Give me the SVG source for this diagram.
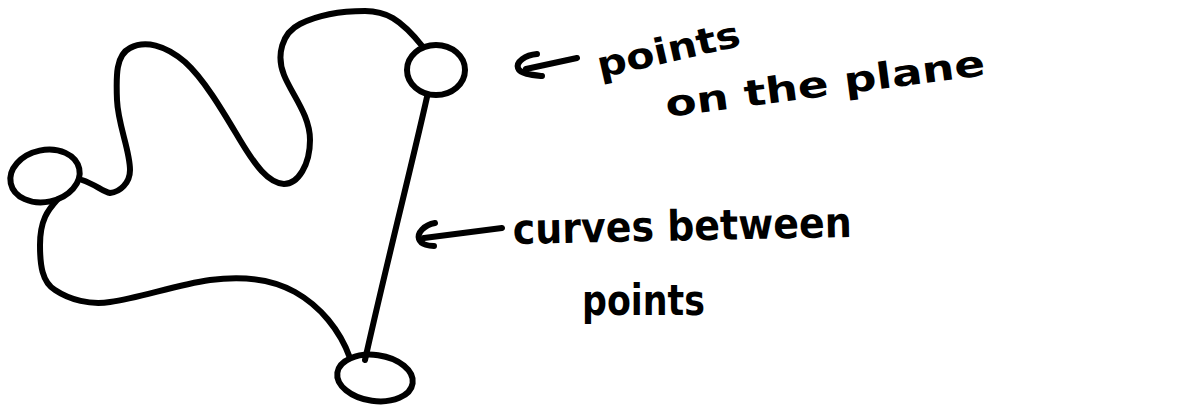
<svg xmlns="http://www.w3.org/2000/svg" width="1204" height="410" viewBox="0 0 1204 410">
<style>
.ink{fill:none;stroke:#000;stroke-width:6;stroke-linecap:round;stroke-linejoin:round}
.lbl{font-family:"DejaVu Sans","Liberation Sans",sans-serif;font-weight:bold;fill:#000}
</style>
<rect width="1204" height="410" fill="#fff"/>
<g id="connectors">
<path class="ink" d="M82,180 C95,184 103,192 110,193 C120,192 130,183 130,170 C130,150 118,125 117,100 C116,75 116,55 130,48 C145,40 165,45 185,62 C205,80 225,115 240,140 C255,165 268,183 284,184 C298,184 310,165 310,140 C310,115 292,95 284,75 C276,55 282,33 300,24 C320,14 345,11 365,11 C385,11 400,18 423,47"/>
<path class="ink" d="M427,97 C413,160 385,270 365,360"/>
<path class="ink" d="M57,200 C48,210 40,220 40,245 C40,265 42,282 55,290 C70,300 90,305 110,302 C140,298 175,285 210,280 C240,276 270,278 295,292 C320,306 340,330 350,358"/>
</g>
<g id="node-left">
<ellipse class="ink" cx="45" cy="176" rx="35" ry="26" transform="rotate(-12 45 176)"/>
</g>
<g id="node-top">
<ellipse class="ink" cx="436" cy="70" rx="29" ry="25"/>
</g>
<g id="node-bottom">
<ellipse class="ink" cx="375" cy="378" rx="38" ry="23" transform="rotate(8 375 378)"/>
</g>
<g id="annotations">
<path class="ink" d="M577,58 L526,69"/>
<path class="ink" d="M537,54 C525,55 516,62 518,68 C520,74 532,75 542,76"/>
<text class="lbl" x="600" y="78" font-size="36" textLength="146" lengthAdjust="spacingAndGlyphs" transform="rotate(-12.8 600 78)">points</text>
<text class="lbl" x="667" y="117" font-size="36" textLength="322" lengthAdjust="spacingAndGlyphs" transform="rotate(-7.5 667 117)">on the plane</text>
<path class="ink" d="M502,228 L424,238"/>
<path class="ink" d="M435,223 C424,225 417,233 419,239 C421,245 430,246 434,246"/>
<text class="lbl" x="513" y="244" font-size="42" textLength="339" lengthAdjust="spacingAndGlyphs" transform="rotate(-1.2 513 244)">curves between</text>
<text class="lbl" x="582" y="315" font-size="42" textLength="123" lengthAdjust="spacingAndGlyphs">points</text>
</g>
</svg>
